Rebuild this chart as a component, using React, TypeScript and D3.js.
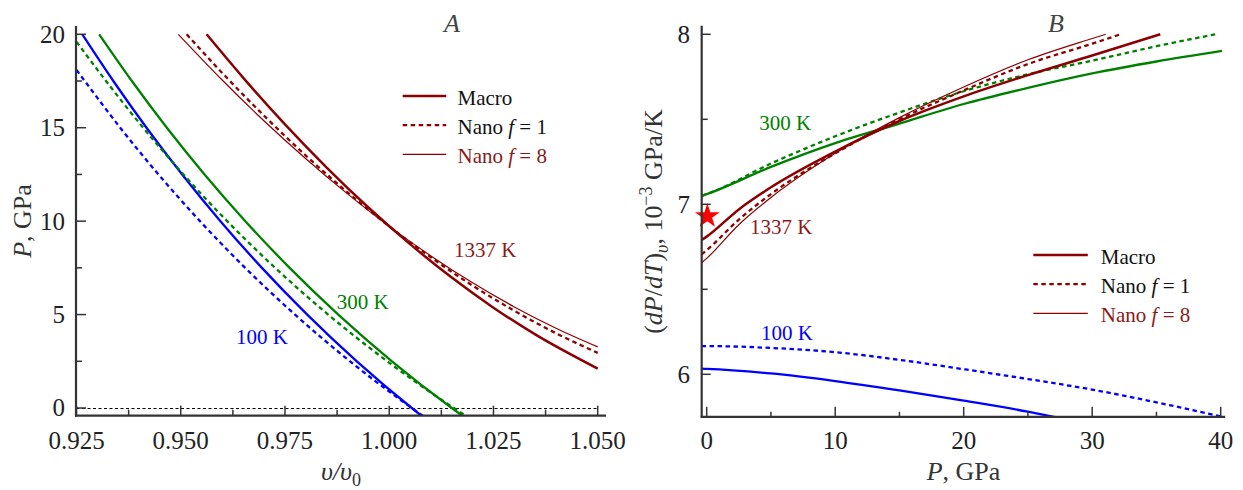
import React from "react";
import * as d3 from "d3";

// ---------- Panel A data: [v/v0, P (GPa)] ----------
const A_100K_MACRO: [number, number][] = [
  [0.92637, 20], [0.93383, 17.5], [0.94179, 15], [0.95034, 12.5], [0.95952, 10],
  [0.96947, 7.5], [0.98033, 5], [0.99223, 2.5], [1.0054, 0], [1.00792, -0.45],
];
const A_100K_NANO1: [number, number][] = [
  [0.925, 18.09], [0.92698, 17.5], [0.93549, 15], [0.94466, 12.5], [0.95461, 10],
  [0.96546, 7.5], [0.97739, 5], [0.9906, 2.5], [1.0054, 0], [1.00826, -0.45],
];
const A_300K_MACRO: [number, number][] = [
  [0.93044, 20], [0.93828, 17.5], [0.94667, 15], [0.95571, 12.5], [0.96549, 10],
  [0.97612, 7.5], [0.98778, 5], [1.00065, 2.5], [1.015, 0], [1.01776, -0.45],
];
const A_300K_NANO1: [number, number][] = [
  [0.925, 19.6], [0.93208, 17.5], [0.94099, 15], [0.95064, 12.5], [0.96114, 10],
  [0.97265, 7.5], [0.98535, 5], [0.99953, 2.5], [1.0155, 0], [1.01861, -0.45],
];
const A_1337K_MACRO: [number, number][] = [
  [0.9562, 20], [0.965, 17.67], [0.975, 15.18], [0.985, 12.87], [0.995, 10.73],
  [1.005, 8.77], [1.015, 6.98], [1.025, 5.37], [1.035, 3.94], [1.05, 2.11],
];
const A_1337K_NANO1: [number, number][] = [
  [0.95142, 20], [0.96, 17.92], [0.97, 15.64], [0.98, 13.51], [0.99, 11.54], [1.0, 9.72],
  [1.01, 8.06], [1.02, 6.55], [1.03, 5.2], [1.04, 4.0], [1.05, 2.95],
];
const A_1337K_NANO8: [number, number][] = [
  [0.94942, 20], [0.96, 17.54], [0.97, 15.36], [0.98, 13.34], [0.99, 11.46], [1.0, 9.72],
  [1.01, 8.14], [1.02, 6.7], [1.03, 5.41], [1.04, 4.27], [1.05, 3.27],
];

// ---------- Panel B data: [P (GPa), (dP/dT)v (1e-3 GPa/K)] ----------
const B_100K_MACRO: [number, number][] = [
  [-0.4, 6.033], [0, 6.032], [5, 6.005], [10, 5.96], [15, 5.905], [20, 5.845], [25, 5.78], [27.3, 5.745],
];
const B_100K_NANO1: [number, number][] = [
  [-0.4, 6.166], [0, 6.166], [5, 6.155], [10, 6.13], [15, 6.085], [20, 6.03], [25, 5.972],
  [30, 5.91], [35, 5.835], [40, 5.752],
];
const B_300K_MACRO: [number, number][] = [
  [-0.4, 7.05], [0, 7.06], [5, 7.22], [10, 7.36], [15, 7.475], [20, 7.59], [25, 7.685],
  [30, 7.77], [35, 7.84], [40.1, 7.902],
];
const B_300K_NANO1: [number, number][] = [
  [-0.4, 7.05], [0, 7.06], [5, 7.24], [10, 7.4], [15, 7.54], [20, 7.665], [25, 7.765],
  [30, 7.845], [35, 7.93], [39.6, 8.0],
];
const B_1337K_MACRO: [number, number][] = [
  [-0.4, 6.79], [0, 6.81], [2.5, 6.97], [5, 7.1], [10, 7.31], [15, 7.49], [20, 7.635],
  [25, 7.76], [30, 7.875], [35.3, 8.0],
];
const B_1337K_NANO1: [number, number][] = [
  [-0.4, 6.705], [0, 6.73], [2.5, 6.91], [5, 7.06], [10, 7.3], [15, 7.5], [20, 7.67],
  [25, 7.825], [30, 7.945], [32.2, 8.0],
];
const B_1337K_NANO8: [number, number][] = [
  [-0.4, 6.655], [0, 6.682], [2.5, 6.88], [5, 7.04], [10, 7.3], [15, 7.51], [20, 7.69],
  [25, 7.85], [30, 7.975], [31.05, 8.0],
];
const B_STAR: [number, number] = [0.05, 6.93];

// ---------- ticks ----------
const A_X_TICKS = [0.925, 0.95, 0.975, 1.0, 1.025, 1.05];
const A_X_MINOR = [0.9375, 0.9625, 0.9875, 1.0125, 1.0375];
const A_Y_TICKS = [0, 5, 10, 15, 20];
const A_Y_MINOR = [2.5, 7.5, 12.5, 17.5];
const B_X_TICKS = [0, 10, 20, 30, 40];
const B_X_MINOR = [5, 15, 25, 35];
const B_Y_TICKS = [6, 7, 8];
const B_Y_MINOR = [6.5, 7.5];

const LEGEND_ITEMS = ["Macro", "Nano f = 1", "Nano f = 8"];
const TEMPS = ["100 K", "300 K", "1337 K"];

// ---------- styles ----------
const BLUE = "#0000ff";
const GREEN = "#008000";
const RED = "#8b0000";
const RED_TEXT = "#8b1a1a";
const AXIS = "#333";
const FONT = "'Liberation Serif', 'Times New Roman', serif";

type Kind = "macro" | "nano1" | "nano8";
const STYLE: Record<Kind, { w: number; dash?: string }> = {
  macro: { w: 2.3 },
  nano1: { w: 2.3, dash: "4.5,3.5" },
  nano8: { w: 1.2 },
};

const SERIES_A: { data: [number, number][]; color: string; kind: Kind }[] = [
  { data: A_100K_NANO1, color: BLUE, kind: "nano1" },
  { data: A_100K_MACRO, color: BLUE, kind: "macro" },
  { data: A_300K_NANO1, color: GREEN, kind: "nano1" },
  { data: A_300K_MACRO, color: GREEN, kind: "macro" },
  { data: A_1337K_NANO8, color: RED, kind: "nano8" },
  { data: A_1337K_NANO1, color: RED, kind: "nano1" },
  { data: A_1337K_MACRO, color: RED, kind: "macro" },
];
const SERIES_B: { data: [number, number][]; color: string; kind: Kind }[] = [
  { data: B_100K_NANO1, color: BLUE, kind: "nano1" },
  { data: B_100K_MACRO, color: BLUE, kind: "macro" },
  { data: B_300K_NANO1, color: GREEN, kind: "nano1" },
  { data: B_300K_MACRO, color: GREEN, kind: "macro" },
  { data: B_1337K_NANO8, color: RED, kind: "nano8" },
  { data: B_1337K_NANO1, color: RED, kind: "nano1" },
  { data: B_1337K_MACRO, color: RED, kind: "macro" },
];

function Legend({ x, y }: { x: number; y: number }) {
  const kinds: Kind[] = ["macro", "nano1", "nano8"];
  return (
    <g>
      {LEGEND_ITEMS.map((lab, i) => {
        const st = STYLE[kinds[i]];
        const ly = y + i * 29.2;
        const parts = lab.split(" f ");
        return (
          <g key={lab}>
            <line x1={x} x2={x + (x > 900 ? 54.5 : 43.5)} y1={ly} y2={ly} stroke={RED}
              strokeWidth={kinds[i] === "macro" ? 2.5 : st.w} strokeDasharray={st.dash} />
            <text x={x + (x > 900 ? 67.5 : 54.8)} y={ly + 9} fontSize={21} fontFamily={FONT}
              fill={i === 2 ? RED_TEXT : "#111"}>
              {parts.length > 1 ? (
                <>
                  {parts[0] + " "}
                  <tspan fontStyle="italic">f</tspan>
                  {" " + parts[1]}
                </>
              ) : lab}
            </text>
          </g>
        );
      })}
    </g>
  );
}

export default function App() {
  // Panel A scales
  const xA = d3.scaleLinear().domain([0.925, 1.05]).range([76.5, 597.7]);
  const yA = d3.scaleLinear().domain([0, 20]).range([408, 34.3]);
  // Panel B scales
  const xB = d3.scaleLinear().domain([0, 40]).range([706.7, 1220.7]);
  const yB = d3.scaleLinear().domain([6, 8]).range([374.3, 34.3]);

  const lineA = d3.line<[number, number]>().x((d) => xA(d[0])).y((d) => yA(d[1])).curve(d3.curveMonotoneX);
  const lineB = d3.line<[number, number]>().x((d) => xB(d[0])).y((d) => yB(d[1])).curve(d3.curveMonotoneX);

  // axis extents
  const aX0 = xA(0.925) - 0.5, aX1 = xA(1.052), aY0 = yA(-0.41), aY1 = yA(20.45);
  const bX0 = xB(-0.39), bX1 = xB(40.35), bY0 = yB(5.75), bY1 = yB(8.05);

  const fmtA = d3.format(".3f");
  const star = d3.symbol(d3.symbolStar, 190)() as string;

  const tickText = { fontSize: 25, fontFamily: FONT, fill: "#222" } as const;
  const zeroY = Math.round(yA(0)) + 0.5;

  return (
    <div style={{ position: "absolute", left: 0, top: 0 }}>
      <svg width={1243} height={490} style={{ display: "block", background: "#fff" }}>
        <defs>
          <clipPath id="clipA">
            <rect x={aX0} y={aY1} width={aX1 - aX0} height={aY0 - aY1} />
          </clipPath>
          <clipPath id="clipB">
            <rect x={bX0} y={bY1} width={bX1 - bX0} height={bY0 - bY1} />
          </clipPath>
        </defs>

        {/* ---------------- Panel A ---------------- */}
        <line x1={xA(0.925)} x2={xA(1.05)} y1={zeroY} y2={zeroY} stroke="#000" strokeWidth={1} strokeDasharray="3,2.5" />
        <g clipPath="url(#clipA)">
          {SERIES_A.map((s, i) => (
            <path key={i} d={lineA(s.data) as string} fill="none" stroke={s.color}
              strokeWidth={s.color === RED && s.kind === "macro" ? 2.5 : STYLE[s.kind].w}
              strokeDasharray={STYLE[s.kind].dash} />
          ))}
        </g>
        {/* axes A */}
        <line x1={aX0} x2={aX0} y1={aY1} y2={aY0 + 1} stroke={AXIS} strokeWidth={2.2} />
        <line x1={aX0 - 1} x2={aX1} y1={aY0} y2={aY0} stroke={AXIS} strokeWidth={2.2} />
        {A_Y_TICKS.map((t) => (
          <g key={"ay" + t}>
            <line x1={aX0} x2={aX0 + 10} y1={yA(t)} y2={yA(t)} stroke={AXIS} strokeWidth={1.5} />
            <text x={65} y={yA(t) + 8.4} textAnchor="end" {...tickText}>{t}</text>
          </g>
        ))}
        {A_Y_MINOR.map((t) => (
          <line key={"aym" + t} x1={aX0} x2={aX0 + 6} y1={yA(t)} y2={yA(t)} stroke={AXIS} strokeWidth={1.5} />
        ))}
        {A_X_TICKS.map((t) => (
          <g key={"ax" + t}>
            <line x1={xA(t)} x2={xA(t)} y1={aY0} y2={aY0 - 10} stroke={AXIS} strokeWidth={1.5} />
            <text x={xA(t)} y={448.5} textAnchor="middle" {...tickText}>{fmtA(t)}</text>
          </g>
        ))}
        {A_X_MINOR.map((t) => (
          <line key={"axm" + t} x1={xA(t)} x2={xA(t)} y1={aY0} y2={aY0 - 6} stroke={AXIS} strokeWidth={1.5} />
        ))}
        {/* axis labels A */}
        <text transform="translate(31,221) rotate(-90)" textAnchor="middle" fontSize={26} fontFamily={FONT} fill="#333">
          <tspan fontStyle="italic">P</tspan>{", GPa"}
        </text>
        <text x={341} y={480} textAnchor="middle" fontSize={26} fontFamily={FONT} fill="#333">
          <tspan fontStyle="italic">{"υ/υ"}</tspan>
          <tspan fontSize={18} dy={6}>0</tspan>
        </text>
        <text x={452} y={31.7} textAnchor="middle" fontSize={26} fontStyle="italic" fontFamily={FONT} fill="#444">A</text>
        {/* curve labels A */}
        <text x={xA(0.96325)} y={yA(3.44)} fontSize={21} fontFamily={FONT} fill={BLUE}>{TEMPS[0]}</text>
        <text x={xA(0.9874)} y={yA(5.3)} fontSize={21} fontFamily={FONT} fill={GREEN}>{TEMPS[1]}</text>
        <text x={xA(1.01554)} y={yA(8.08)} fontSize={21} fontFamily={FONT} fill={RED_TEXT}>{TEMPS[2]}</text>
        <Legend x={402.7} y={96} />

        {/* ---------------- Panel B ---------------- */}
        <g clipPath="url(#clipB)">
          {SERIES_B.map((s, i) => (
            <path key={i} d={lineB(s.data) as string} fill="none" stroke={s.color}
              strokeWidth={s.color === RED && s.kind === "macro" ? 2.5 : STYLE[s.kind].w}
              strokeDasharray={STYLE[s.kind].dash} />
          ))}
        </g>
        <path d={star} transform={`translate(${xB(B_STAR[0])},${yB(B_STAR[1])})`} fill="#ff0000" />
        {/* axes B */}
        <line x1={bX0} x2={bX0} y1={bY1} y2={bY0 + 1} stroke={AXIS} strokeWidth={2.2} />
        <line x1={bX0 - 1} x2={bX1} y1={bY0} y2={bY0} stroke={AXIS} strokeWidth={2.2} />
        {B_Y_TICKS.map((t) => (
          <g key={"by" + t}>
            <line x1={bX0} x2={bX0 + 9} y1={yB(t)} y2={yB(t)} stroke={AXIS} strokeWidth={1.5} />
            <text x={690} y={yB(t) + 8.4} textAnchor="end" {...tickText}>{t}</text>
          </g>
        ))}
        {B_Y_MINOR.map((t) => (
          <line key={"bym" + t} x1={bX0} x2={bX0 + 6} y1={yB(t)} y2={yB(t)} stroke={AXIS} strokeWidth={1.5} />
        ))}
        {B_X_TICKS.map((t) => (
          <g key={"bx" + t}>
            <line x1={xB(t)} x2={xB(t)} y1={bY0} y2={bY0 - 10} stroke={AXIS} strokeWidth={1.5} />
            <text x={xB(t)} y={448.5} textAnchor="middle" {...tickText}>{t}</text>
          </g>
        ))}
        {B_X_MINOR.map((t) => (
          <line key={"bxm" + t} x1={xB(t)} x2={xB(t)} y1={bY0} y2={bY0 - 5} stroke={AXIS} strokeWidth={1.5} />
        ))}
        {/* axis labels B */}
        <text transform="translate(662,221.5) rotate(-90)" textAnchor="middle" fontSize={26} fontFamily={FONT} fill="#333">
          {"("}
          <tspan fontStyle="italic">dP</tspan>
          {"/"}
          <tspan fontStyle="italic">dT</tspan>
          {")"}
          <tspan fontStyle="italic" fontSize={18} dy={6}>{"υ"}</tspan>
          <tspan dy={-6}>{", 10"}</tspan>
          <tspan fontSize={18} dy={-10}>{"−3"}</tspan>
          <tspan dy={10}>{" GPa/K"}</tspan>
        </text>
        <text x={963.5} y={480} textAnchor="middle" fontSize={26} fontFamily={FONT} fill="#333">
          <tspan fontStyle="italic">P</tspan>{", GPa"}
        </text>
        <text x={1056} y={31.7} textAnchor="middle" fontSize={26} fontStyle="italic" fontFamily={FONT} fill="#444">B</text>
        {/* curve labels B */}
        <text x={xB(4.23)} y={yB(6.202)} fontSize={21} fontFamily={FONT} fill={BLUE}>{TEMPS[0]}</text>
        <text x={xB(4.09)} y={yB(7.437)} fontSize={21} fontFamily={FONT} fill={GREEN}>{TEMPS[1]}</text>
        <text x={xB(3.37)} y={yB(6.825)} fontSize={21} fontFamily={FONT} fill={RED_TEXT}>{TEMPS[2]}</text>
        <Legend x={1033.3} y={255} />
      </svg>
    </div>
  );
}
